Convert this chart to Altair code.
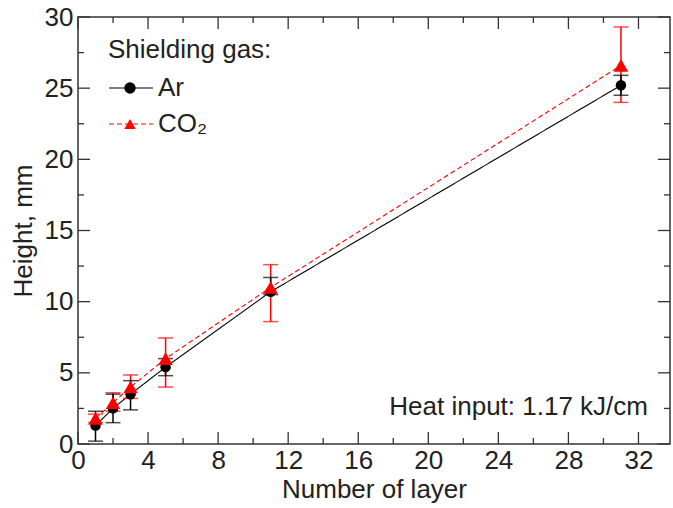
import altair as alt
import pandas as pd

# ---- data ----
layers = [1, 2, 3, 5, 11, 31]
series_names = ["Ar", "CO₂"]
line_keys = ["Ar line", "CO₂ line"]
marker_keys = ["Ar marker", "CO₂ marker"]
series_colors = ["#000000", "#ff0000"]

ar_height = [1.3, 2.5, 3.5, 5.4, 10.7, 25.2]
ar_low = [0.2, 1.5, 2.4, 4.8, 10.5, 24.5]
ar_high = [2.3, 3.5, 4.45, 6.0, 11.7, 25.9]

co2_height = [1.8, 2.9, 4.0, 6.0, 11.0, 26.6]
co2_low = [1.5, 2.3, 3.2, 4.0, 8.6, 24.0]
co2_high = [2.1, 3.6, 4.85, 7.45, 12.6, 29.3]

x_major = [0, 4, 8, 12, 16, 20, 24, 28, 32]
x_minor = [2, 6, 10, 14, 18, 22, 26, 30]
y_major = [0, 5, 10, 15, 20, 25, 30]
y_minor = [2.5, 7.5, 12.5, 17.5, 22.5, 27.5]

x_domain = [0, 33.8]
y_domain = [0, 30]
annotation = "Heat input: 1.17 kJ/cm"

# ---- tables ----
ar = pd.DataFrame({"series": series_names[0], "key": line_keys[0], "mkey": marker_keys[0],
                   "layer": layers, "height": ar_height, "low": ar_low, "high": ar_high})
co2 = pd.DataFrame({"series": series_names[1], "key": line_keys[1], "mkey": marker_keys[1],
                    "layer": layers, "height": co2_height, "low": co2_low, "high": co2_high})
df = pd.concat([ar, co2], ignore_index=True)
df_err = pd.concat([co2, ar], ignore_index=True)

W, H = 592, 427
FONT = "Liberation Sans"
FS = 26
TXT = "#222222"
FRAME = "#333333"

xs = alt.Scale(domain=x_domain, nice=False, zero=False)
ys = alt.Scale(domain=y_domain, nice=False, zero=False)
xaxis = alt.Axis(values=x_major, ticks=False, domain=False, grid=False, labelFlush=False,
                 labelOverlap=False, labelFontSize=FS, labelColor=TXT, labelPadding=3,
                 title="Number of layer", titleFontSize=FS, titleFontWeight="normal",
                 titleColor=TXT, titlePadding=3)
yaxis = alt.Axis(values=y_major, ticks=False, domain=False, grid=False, labelFlush=False,
                 labelOverlap=False, labelFontSize=FS, labelColor=TXT, labelPadding=5,
                 title="Height, mm", titleFontSize=FS, titleFontWeight="normal",
                 titleColor=TXT, titlePadding=8)

X = alt.X("layer:Q", scale=xs, axis=xaxis)
Y = alt.Y("height:Q", scale=ys, axis=yaxis)
cscale = alt.Scale(domain=series_names, range=series_colors)
color_nolegend = alt.Color("series:N", scale=cscale, legend=None)

# legend with the title, labels and line samples
line_legend = alt.Legend(
    title="Shielding gas:", orient="none", legendX=30, legendY=20, zindex=1,
    titleFontSize=FS, titleFontWeight="normal", titleColor=TXT, titleFont=FONT, titlePadding=2,
    labelFontSize=FS, labelColor=TXT, labelFont=FONT, labelOffset=4,
    labelExpr="replace(datum.label, ' line', '')",
    symbolType="stroke", symbolSize=1936, rowPadding=-9, padding=0,
    symbolStrokeWidth=1.2, symbolOpacity=1,
)
# legend with the marker samples only (no labels), drawn over the line samples
marker_legend = alt.Legend(
    title=None, orient="none", legendX=46, legendY=65, zindex=2,
    labelFontSize=6, labelExpr="''", labelOffset=2,
    symbolSize=130, symbolStrokeWidth=0, rowPadding=24, padding=0, symbolOpacity=1,
)

lines = alt.Chart(df).mark_line(strokeWidth=1.1).encode(
    x=X, y=Y,
    stroke=alt.Stroke("key:N", scale=alt.Scale(domain=line_keys, range=series_colors),
                      legend=line_legend),
    strokeDash=alt.StrokeDash("key:N", scale=alt.Scale(domain=line_keys, range=[[1, 0], [5, 3]]),
                              legend=line_legend),
)

err_rules = alt.Chart(df_err).mark_rule(strokeWidth=1.5).encode(
    x=X, y=alt.Y("low:Q", scale=ys, axis=yaxis), y2="high:Q", color=color_nolegend)
err_low = alt.Chart(df_err).mark_tick(orient="horizontal", size=15, thickness=1.5).encode(
    x=X, y=alt.Y("low:Q", scale=ys, axis=yaxis), color=color_nolegend)
err_high = alt.Chart(df_err).mark_tick(orient="horizontal", size=15, thickness=1.5).encode(
    x=X, y=alt.Y("high:Q", scale=ys, axis=yaxis), color=color_nolegend)

points = alt.Chart(df).mark_point(filled=True, opacity=1).encode(
    x=X, y=Y,
    fill=alt.Fill("mkey:N", scale=alt.Scale(domain=marker_keys, range=series_colors),
                  legend=marker_legend),
    shape=alt.Shape("mkey:N", scale=alt.Scale(domain=marker_keys, range=["circle", "triangle-up"]),
                    legend=marker_legend),
    size=alt.Size("series:N", scale=alt.Scale(domain=series_names, range=[110, 210]), legend=None),
)

# inward ticks on all four sides
tick_style = dict(color=FRAME, strokeWidth=1.3)
def xticks(vals, length):
    d = pd.DataFrame({"layer": vals})
    bot = alt.Chart(d).mark_rule(**tick_style).encode(x=X, y=alt.value(H), y2=alt.value(H - length))
    top = alt.Chart(d).mark_rule(**tick_style).encode(x=X, y=alt.value(0), y2=alt.value(length))
    return bot + top
def yticks(vals, length):
    d = pd.DataFrame({"height": vals})
    lft = alt.Chart(d).mark_rule(**tick_style).encode(y=Y, x=alt.value(0), x2=alt.value(length))
    rgt = alt.Chart(d).mark_rule(**tick_style).encode(y=Y, x=alt.value(W), x2=alt.value(W - length))
    return lft + rgt

note = alt.Chart(pd.DataFrame({"t": [annotation]})).mark_text(
    align="right", baseline="alphabetic", fontSize=FS, font=FONT, color=TXT
).encode(x=alt.value(570), y=alt.value(398), text="t:N")

chart = alt.layer(
    xticks(x_major, 12), xticks(x_minor, 6), yticks(y_major, 12), yticks(y_minor, 6),
    lines, err_rules, err_low, err_high, points, note,
).properties(
    width=W, height=H,
    autosize=alt.AutoSizeParams(type="none"),
    padding={"left": 78, "top": 17, "right": 3, "bottom": 64},
    background="white",
).configure(font=FONT).configure_view(stroke=FRAME, strokeWidth=1.5)

chart.save("out.html", embed_options={"renderer": "svg", "actions": False})
